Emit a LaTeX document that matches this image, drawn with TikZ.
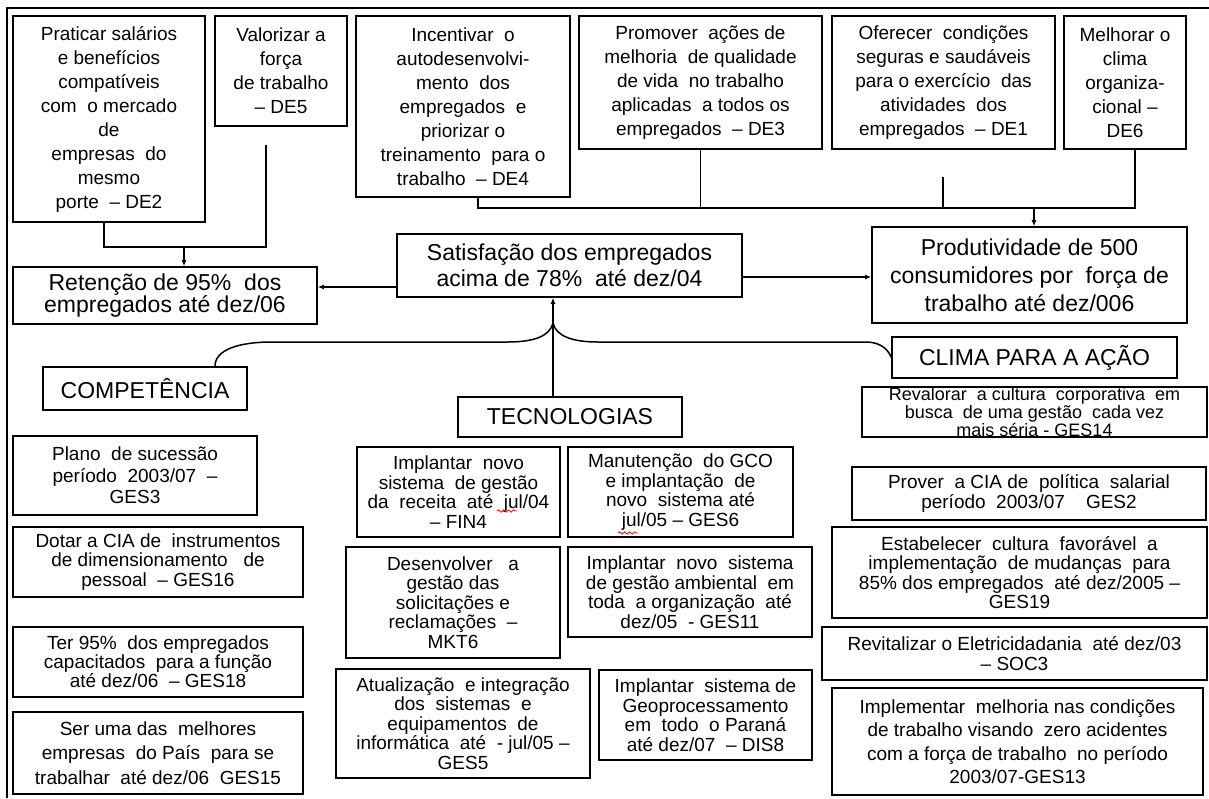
\documentclass[tikz,border=0pt]{standalone}
\usepackage{fontspec}
\setmainfont{Liberation Sans}
\usetikzlibrary{arrows.meta,decorations.pathmorphing}

% box from its corners: name, style, x1, y1, x2, y2, text
\newcommand{\drawbox}[7]{%
  \node[#2, minimum width={#5-#3}, minimum height={#6-#4}] (#1)
    at ({(#3+#5)/2},{(#4+#6)/2}) {#7};}

\tikzset{
  box/.style={draw, line width=1.6pt, inner sep=0pt, align=center, text=black},
  topbox/.style={box, font=\fontsize{19}{24}\selectfont},
  bigbox/.style={box, font=\fontsize{23}{26}\selectfont},
  headbox/.style={box, font=\fontsize{23}{26}\selectfont},
  tightbox/.style={box, font=\fontsize{19}{19.5}\selectfont},
  airbox/.style={box, font=\fontsize{19}{24.5}\selectfont},
  conn/.style={line width=1.5pt},
  arr/.style={line width=1.5pt, -{Latex[length=6pt,width=5pt]}},
  frame/.style={line width=1.4pt},
  spell/.style={red, line width=0.8pt, decorate,
    decoration={snake, segment length=5pt, amplitude=1.2pt}}
}

\begin{document}
\begin{tikzpicture}[x=1pt,y=-1pt]
\useasboundingbox (0,0) rectangle (1209,798);

% outer frame
\draw[frame] (7,798) -- (7,8) -- (1209,8);

% directives along the top
\drawbox{de2}{topbox}{13}{16}{205}{222}{Praticar salários\\ e benefícios\\ compatíveis\\ com\ \ o mercado\\ de\\ empresas\ \ do\\ mesmo\\ porte\ \ – DE2}
\drawbox{de5}{topbox}{215}{16}{347}{126}{Valorizar a\\ força\\ de trabalho\\ – DE5}
\drawbox{de4}{topbox}{356}{16}{570}{197}{Incentivar\ \ o\\ autodesenvolvi-\\ mento\ \ dos\\ empregados\ \ e\\ priorizar o\\ treinamento\ \ para o\\ trabalho\ \ – DE4}
\drawbox{de3}{topbox}{579}{16}{822}{149}{Promover\ \ ações de\\ melhoria\ \ de qualidade\\ de vida\ \ no trabalho\\ aplicadas\ \ a todos os\\ empregados\ \ – DE3}
\drawbox{de1}{topbox}{832}{16}{1055}{149}{Oferecer\ \ condições\\ seguras e saudáveis\\ para o exercício\ \ das\\ atividades\ \ dos\\ empregados\ \ – DE1}
\drawbox{de6}{topbox}{1064}{16}{1186}{149}{Melhorar o\\ clima\\ organiza-\\ cional –\\ DE6}

% objectives
\drawbox{ret}{bigbox}{13}{267}{317}{324}{Retenção de 95\%\ \ dos\\[-4pt] empregados até dez/06}
\drawbox{sat}{bigbox}{397}{234}{742}{297}{Satisfação dos empregados\\ acima de 78\%\ \ até dez/04}
\drawbox{prod}{bigbox}{872}{227}{1187}{323}{Produtividade de 500\\[2pt] consumidores por\ \ força de\\[2pt] trabalho até dez/006}

% perspectives
\drawbox{comp}{headbox}{43}{367}{247}{410}{COMPETÊNCIA}
\drawbox{tec}{headbox}{458}{397}{682}{437}{TECNOLOGIAS}
\drawbox{clima}{headbox}{892}{337}{1177}{378}{CLIMA PARA A AÇÃO}

% competence actions
\drawbox{ges3}{box, font=\fontsize{19}{21.5}\selectfont}{13}{436}{257}{515}{Plano\ \ de sucessão\\ período\ \ 2003/07\ \ –\\ GES3}
\drawbox{ges16}{tightbox}{13}{527}{303}{597}{Dotar a CIA de\ \ instrumentos\\ de dimensionamento\ \ \ de\\ pessoal\ \ – GES16}
\drawbox{ges18}{box, font=\fontsize{19}{17.5}\selectfont}{13}{627}{303}{697}{Ter 95\%\ \ dos empregados\\ capacitados\ \ para a função\\ até dez/06\ \ – GES18}
\drawbox{ges15}{airbox}{13}{712}{303}{794}{Ser uma das\ \ melhores\\ empresas\ \ do País\ \ para se\\ trabalhar\ \ até dez/06\ \ GES15}

% technology actions
\drawbox{fin4}{tightbox}{357}{447}{560}{537}{Implantar\ \ novo\\ sistema\ \ de gestão\\ da\ \ receita\ \ até\ \ jul/04\\ – FIN4}
\drawbox{ges6}{tightbox}{568}{447}{793}{537}{Manutenção\ \ do GCO\\ e implantação\ \ de\\ novo\ \ sistema até\\ jul/05 – GES6}
\drawbox{mkt6}{tightbox}{346}{547}{560}{658}{Desenvolver\ \ \ a\\ gestão das\\ solicitações e\\ reclamações\ \ –\\ MKT6}
\drawbox{ges11}{tightbox}{568}{547}{812}{637}{Implantar\ \ novo\ \ sistema\\ de gestão ambiental\ \ em\\ toda\ \ a organização\ \ até\\ dez/05\ \ - GES11}
\drawbox{ges5}{tightbox}{336}{669}{590}{778}{Atualização\ \ e integração\\ dos\ \ sistemas\ \ e\\ equipamentos\ \ de\\ informática\ \ até\ \ - jul/05 –\\ GES5}
\drawbox{dis8}{tightbox}{599}{670}{812}{760}{Implantar\ \ sistema de\\ Geoprocessamento\\ em\ \ todo\ \ o Paraná\\ até dez/07\ \ – DIS8}

% climate actions
\drawbox{ges14}{box, font=\fontsize{18}{15.5}\selectfont}{862}{387}{1207}{437}{Revalorar\ \ a cultura\ \ corporativa\ \ em\\ busca\ \ de uma gestão\ \ cada vez\\ mais séria - GES14}
\drawbox{ges2}{box, font=\fontsize{19}{20}\selectfont}{852}{467}{1206}{520}{Prover\ \ a CIA de\ \ política\ \ salarial\\ período\ \ 2003/07\ \ \ \ GES2}
\drawbox{ges19}{tightbox}{832}{527}{1207}{618}{Estabelecer\ \ cultura\ \ favorável\ \ a\\ implementação\ \ de mudanças\ \ para\\ 85\% dos empregados\ \ até dez/2005 –\\ GES19}
\drawbox{soc3}{box, font=\fontsize{19}{20}\selectfont}{822}{627}{1207}{680}{Revitalizar o Eletricidadania\ \ até dez/03\\ – SOC3}
\drawbox{ges13}{box, font=\fontsize{19}{23.5}\selectfont}{832}{688}{1203}{795}{Implementar\ \ melhoria nas condições\\ de trabalho visando\ \ zero acidentes\\ com a força de trabalho\ \ no período\\ 2003/07-GES13}

% free ends of the feeder lines
\coordinate (de5t) at (266,145);
\coordinate (de1t) at (943,177);
\coordinate (bus) at (0,207);
\coordinate (lbus) at (0,246);
\coordinate (retin) at ([xshift=19pt]ret.north);
\coordinate (prodin) at ([xshift=4.5pt]prod.north);

% top directives feeding productivity
\draw[conn] ([xshift=15pt]de4.south) -- ++(0,10) -| ([xshift=10pt]de6.south);
\draw[conn] (de3.south) -- (de3.south |- bus);
\draw[conn] (de1t) -- (de1t |- bus);
\draw[arr] (prodin |- bus) -- (prodin);

% directives feeding retention
\draw[conn] ([xshift=-5pt]de2.south) -- ++(0,24) -| (de5t);
\draw[arr] (retin |- lbus) -- (retin);

% satisfaction to retention and productivity
\coordinate (satw) at ([yshift=-21.5pt]sat.west);
\coordinate (sate) at ([yshift=-11.5pt]sat.east);
\draw[arr] (satw) -- (satw -| ret.east);
\draw[arr] (sate) -- (sate -| prod.west);

% perspectives converging on satisfaction
\coordinate (J) at (553,323);
\coordinate (compin) at ([xshift=70pt]comp.north);
\draw[arr] (J) -- (J |- sat.south);
\draw[conn] (J |- tec.north) -- (J);
\draw[conn] (J) .. controls (550,336) and (534,342) .. (508,342)
  -- (272,342) .. controls (238,342) and (215,350) .. (compin);
\draw[conn] (J) .. controls (556,336) and (572,342) .. (598,342)
  -- (866,342) .. controls (880,342) and (888,349) .. (clima.west);

% spelling marks under the dates
\draw[spell] (497,511) -- (517,511);
\draw[spell] (618,533) -- (638,533);
\end{tikzpicture}
\end{document}
